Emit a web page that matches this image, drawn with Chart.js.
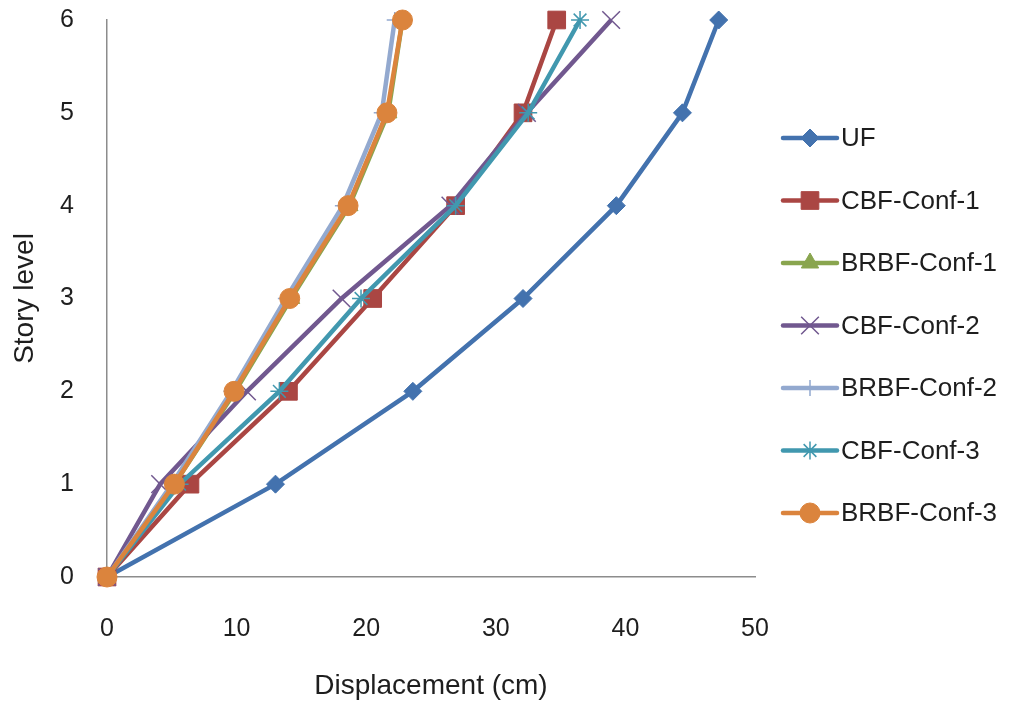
<!DOCTYPE html>
<html>
<head>
<meta charset="utf-8">
<script src="https://cdn.jsdelivr.net/npm/chart.js@4.4.1/dist/chart.umd.min.js"></script>
<style>
  html, body { margin: 0; padding: 0; background: #ffffff; }
  #wrap { width: 1011px; height: 708px; }
</style>
</head>
<body>
<div id="wrap"><canvas id="driftChart" width="1011" height="708"></canvas></div>
<script>
// Story levels (y) and lateral displacement per frame type (x, cm)
const storyLevels = [0, 1, 2, 3, 4, 5, 6];
const seriesNames = ['UF', 'CBF-Conf-1', 'BRBF-Conf-1', 'CBF-Conf-2', 'BRBF-Conf-2', 'CBF-Conf-3', 'BRBF-Conf-3'];
const dispUF    = [0, 13.0, 23.6, 32.1, 39.3, 44.4, 47.2];
const dispCBF1  = [0, 6.4, 14.0, 20.5, 26.9, 32.1, 34.7];
const dispBRBF1 = [0, 5.2, 9.9, 14.2, 18.7, 21.7, 22.8];
const dispCBF2  = [0, 4.1, 10.8, 18.1, 26.5, 32.4, 38.9];
const dispBRBF2 = [0, 5.0, 9.6, 13.8, 18.2, 21.2, 22.2];
const dispCBF3  = [0, 5.6, 13.3, 19.6, 26.9, 32.5, 36.5];
const dispBRBF3 = [0, 5.2, 9.8, 14.1, 18.6, 21.6, 22.8];
const xTicks = [0, 10, 20, 30, 40, 50];
const yTicks = [0, 1, 2, 3, 4, 5, 6];

const seriesValues = [dispUF, dispCBF1, dispBRBF1, dispCBF2, dispBRBF2, dispCBF3, dispBRBF3];
const colors = ['#4372AE', '#AA4643', '#89A54E', '#71588F', '#93A9CF', '#4198AF', '#DB843D'];
const markers = [
    { style: 'rectRot', radius: 9, border: 1 },
    { style: 'rect', radius: 12.5, border: 1 },
    { style: 'triangle', radius: 10, border: 1 },
    { style: 'crossRot', radius: 12.5, border: 1.5 },
    { style: 'cross', radius: 8, border: 1.5 },
    { style: 'star', radius: 9, border: 1.5 },
    { style: 'circle', radius: 10, border: 1 }
];

const fontFamily = '"Liberation Sans", Arial, sans-serif';
const textColor = '#1e1e1e';
const axisColor = '#8c8c8c';

// Legend on the right: short line with the series marker, then the name
const sideLegend = {
    id: 'sideLegend',
    afterDraw(chart) {
        const ctx = chart.ctx;
        const area = chart.chartArea;
        const x0 = area.right + 28;
        const x1 = x0 + 54;
        let y = 138;
        ctx.save();
        chart.data.datasets.forEach(function(ds) {
            ctx.strokeStyle = ds.borderColor;
            ctx.lineWidth = ds.borderWidth;
            ctx.lineCap = 'round';
            ctx.beginPath();
            ctx.moveTo(x0, y);
            ctx.lineTo(x1, y);
            ctx.stroke();
            ctx.fillStyle = ds.pointBackgroundColor;
            ctx.strokeStyle = ds.pointBorderColor;
            ctx.lineWidth = ds.pointBorderWidth;
            ctx.lineCap = 'butt';
            Chart.helpers.drawPoint(ctx, {
                pointStyle: ds.pointStyle,
                radius: ds.pointRadius,
                rotation: 0,
                borderWidth: ds.pointBorderWidth
            }, (x0 + x1) / 2, y);
            ctx.fillStyle = textColor;
            ctx.font = '26px ' + fontFamily;
            ctx.textAlign = 'left';
            ctx.textBaseline = 'middle';
            ctx.fillText(ds.label, x1 + 4, y + 1);
            y += 62.5;
        });
        ctx.restore();
    }
};

const datasets = seriesNames.map(function(name, i) {
    return {
        label: name,
        data: seriesValues[i].map(function(v, k) { return { x: v, y: storyLevels[k] }; }),
        borderColor: colors[i],
        backgroundColor: colors[i],
        borderWidth: 4.5,
        pointStyle: markers[i].style,
        pointRadius: markers[i].radius,
        pointHoverRadius: markers[i].radius,
        pointBackgroundColor: colors[i],
        pointBorderColor: colors[i],
        pointBorderWidth: markers[i].border,
        tension: 0,
        fill: false,
        clip: false,
        // later series are painted over earlier ones
        order: seriesNames.length - i
    };
});

new Chart(document.getElementById('driftChart'), {
    type: 'line',
    data: { datasets: datasets },
    options: {
        responsive: false,
        animation: false,
        layout: { padding: { top: 20, right: 256, bottom: 0, left: 0 } },
        plugins: {
            legend: { display: false },
            tooltip: { enabled: false }
        },
        scales: {
            x: {
                type: 'linear',
                min: 0,
                max: 50,
                afterBuildTicks: function(scale) {
                    scale.ticks = xTicks.map(function(v) { return { value: v }; });
                },
                afterFit: function(scale) {
                    scale.height = 131;
                    scale.paddingLeft = 0;
                    scale.paddingRight = 0;
                },
                grid: { display: false, drawTicks: false },
                border: { display: true, color: axisColor, width: 1.5 },
                ticks: {
                    color: textColor,
                    padding: 37,
                    font: { family: fontFamily, size: 25 }
                },
                title: {
                    display: true,
                    text: 'Displacement (cm)',
                    color: textColor,
                    padding: { bottom: 5 },
                    font: { family: fontFamily, size: 28 }
                }
            },
            y: {
                type: 'linear',
                min: 0,
                max: 6,
                afterBuildTicks: function(scale) {
                    scale.ticks = yTicks.map(function(v) { return { value: v }; });
                },
                afterFit: function(scale) {
                    scale.width = 107;
                    scale.paddingTop = 0;
                    scale.paddingBottom = 0;
                },
                grid: { display: false, drawTicks: false },
                border: { display: true, color: axisColor, width: 1.5 },
                ticks: {
                    color: textColor,
                    padding: 33,
                    font: { family: fontFamily, size: 25 }
                },
                title: {
                    display: true,
                    text: 'Story level',
                    color: textColor,
                    padding: { top: 8 },
                    font: { family: fontFamily, size: 28 }
                }
            }
        }
    },
    plugins: [sideLegend]
});
</script>
</body>
</html>
